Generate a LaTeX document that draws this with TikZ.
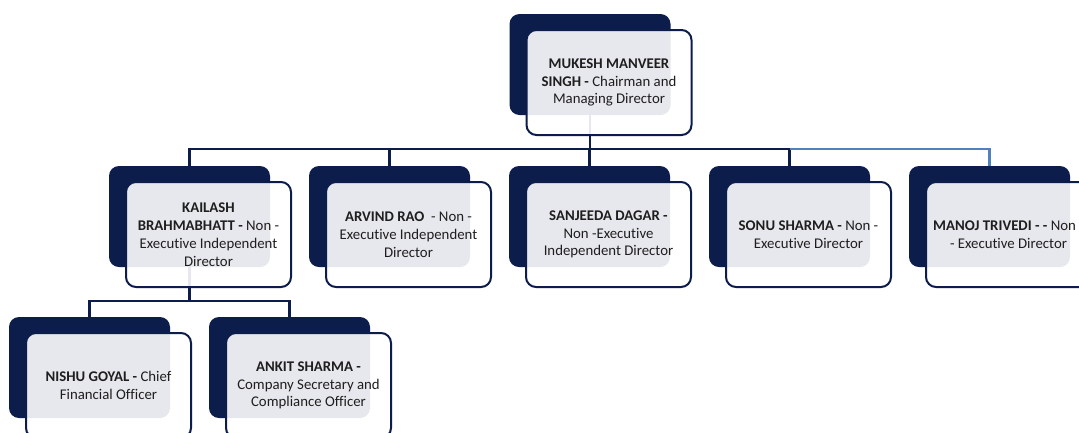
\documentclass[tikz,border=0pt]{standalone}
\usepackage{fontspec}
\setmainfont{Carlito}[Ligatures={NoCommon}]
\definecolor{navy}{HTML}{0C1C4B}
\definecolor{steel}{HTML}{4F81BD}
\definecolor{ink}{HTML}{1E1E1E}
\tikzset{
  backbox/.style={rectangle, rounded corners=10pt, fill=navy, inner sep=0pt,
    minimum width=161pt, minimum height=101pt},
  frontbox/.style={rectangle, rounded corners=10pt, draw=navy, line width=2pt,
    fill=white, fill opacity=0.9, draw opacity=1, text opacity=1, text=ink,
    inner sep=0pt, minimum width=165pt, minimum height=105pt,
    align=center, font=\fontsize{14.8}{17.8}\selectfont,
    xshift=19pt, yshift=-18pt},
  link/.style={draw=navy, line width=2.5pt},
  linkblue/.style={draw=steel, line width=2.5pt}
}
\begin{document}
\begin{tikzpicture}[x=1pt, y=-1pt]
  \clip (0,0) rectangle (1079,432);
  \fill[white] (0,0) rectangle (1079,432);

  % back panels
  \node[backbox] (mukeshback)   at (590,64.5)   {};
  \node[backbox] (kailashback)  at (189.5,216.5) {};
  \node[backbox] (arvindback)   at (389.5,216.5) {};
  \node[backbox] (sanjeedaback) at (589.5,216.5) {};
  \node[backbox] (sonuback)     at (789.5,216.5) {};
  \node[backbox] (manojback)    at (989.5,216.5) {};
  \node[backbox] (nishuback)    at (89.5,367.5)  {};
  \node[backbox] (ankitback)    at (289.5,367.5) {};

  % connectors
  \path (mukeshback.south) ++(0,34) coordinate (topbus);
  \draw[link] (mukeshback.south) -- (topbus);
  \foreach \n in {kailashback, arvindback, sanjeedaback, sonuback}
    \draw[link] (topbus) -| (\n.north);
  \draw[linkblue] (sonuback.north |- topbus) -| (manojback.north);

  \path (kailashback.south) ++(0,34) coordinate (subbus);
  \draw[link] (kailashback.south) -- (subbus);
  \foreach \n in {nishuback, ankitback}
    \draw[link] (subbus) -| (\n.north);

  % front cards
  \node[frontbox] (mukesh) at (mukeshback)
    {\textbf{MUKESH MANVEER}\\\textbf{SINGH -} Chairman and\\Managing Director};
  \node[frontbox] (kailash) at (kailashback)
    {\textbf{KAILASH}\\\textbf{BRAHMABHATT -} Non -\\Executive Independent\\Director};
  \node[frontbox] (arvind) at (arvindback)
    {\textbf{ARVIND RAO} \ - Non -\\Executive Independent\\Director};
  \node[frontbox] (sanjeeda) at (sanjeedaback)
    {\textbf{SANJEEDA DAGAR -}\\Non -Executive\\Independent Director};
  \node[frontbox] (sonu) at (sonuback)
    {\textbf{SONU SHARMA -} Non -\\Executive Director};
  \node[frontbox] (manoj) at (manojback)
    {\textbf{MANOJ TRIVEDI - -} Non -\\- Executive Director};
  \node[frontbox] (nishu) at (nishuback)
    {\textbf{NISHU GOYAL -} Chief\\Financial Officer};
  \node[frontbox] (ankit) at (ankitback)
    {\textbf{ANKIT SHARMA -}\\Company Secretary and\\Compliance Officer};
\end{tikzpicture}
\end{document}
